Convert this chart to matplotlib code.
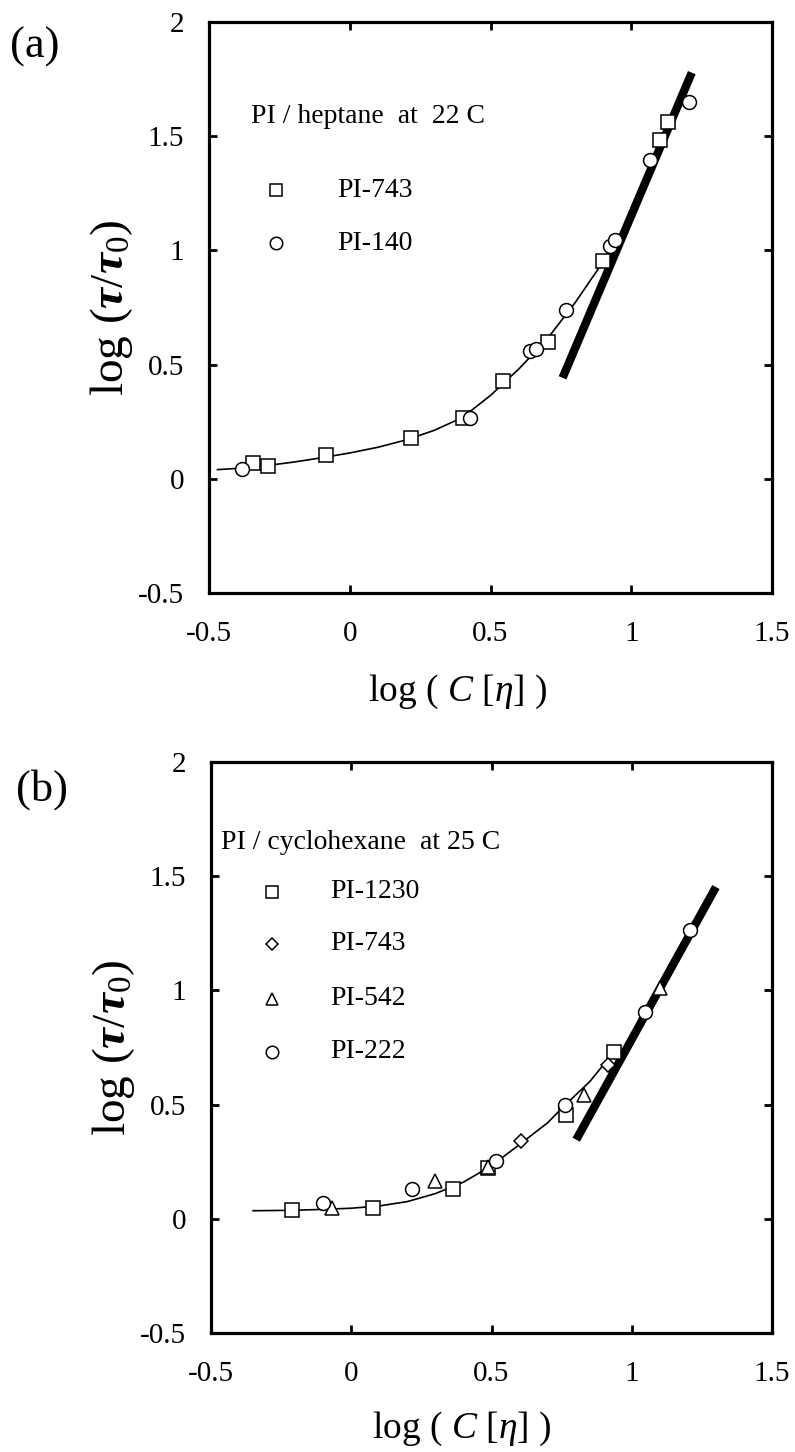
import matplotlib
matplotlib.use("Agg")
import matplotlib.pyplot as plt

plt.rcParams['font.family'] = ['Liberation Serif', 'DejaVu Serif']
plt.rcParams['mathtext.fontset'] = 'custom'
plt.rcParams['mathtext.rm'] = 'Liberation Serif'
plt.rcParams['mathtext.it'] = 'Liberation Serif:italic'
plt.rcParams['mathtext.bf'] = 'Liberation Serif:bold:italic'

# (a) PI / heptane at 22 C
a_sq_x = [-0.343, -0.292, -0.086, 0.218, 0.402, 0.544, 0.703, 0.901, 1.103, 1.132]
a_sq_y = [0.067, 0.058, 0.103, 0.178, 0.267, 0.428, 0.600, 0.953, 1.483, 1.562]
a_ci_x = [-0.383, 0.428, 0.639, 0.663, 0.769, 0.923, 0.941, 1.066, 1.205]
a_ci_y = [0.042, 0.267, 0.558, 0.567, 0.737, 1.017, 1.047, 1.395, 1.650]
a_curve_x = [-0.47, -0.38, -0.3, -0.2, -0.1, 0.0, 0.1, 0.2, 0.3, 0.4, 0.5, 0.6, 0.7, 0.8, 0.9, 0.94]
a_curve_y = [0.040, 0.047, 0.057, 0.073, 0.092, 0.113, 0.138, 0.170, 0.212, 0.268, 0.365, 0.480, 0.610, 0.770, 0.950, 1.040]
a_fit_x = [0.756, 1.215]
a_fit_y = [0.442, 1.778]

# (b) PI / cyclohexane at 25 C
b_sq_x = [-0.213, 0.077, 0.362, 0.489, 0.767, 0.935]
b_sq_y = [0.037, 0.049, 0.130, 0.224, 0.455, 0.728]
b_di_x = [0.605, 0.915]
b_di_y = [0.341, 0.675]
b_tr_x = [-0.069, 0.297, 0.489, 0.831, 1.100]
b_tr_y = [0.046, 0.163, 0.228, 0.541, 1.008]
b_ci_x = [-0.100, 0.217, 0.515, 0.761, 1.048, 1.207]
b_ci_y = [0.070, 0.130, 0.254, 0.498, 0.907, 1.262]
b_curve_x = [-0.35, -0.2, -0.1, 0.0, 0.1, 0.2, 0.3, 0.4, 0.5, 0.6, 0.7, 0.76, 0.85, 0.93]
b_curve_y = [0.035, 0.037, 0.041, 0.046, 0.056, 0.075, 0.110, 0.160, 0.232, 0.325, 0.420, 0.495, 0.600, 0.720]
b_fit_x = [0.802, 1.300]
b_fit_y = [0.346, 1.452]

ticks_x = [-0.5, 0, 0.5, 1, 1.5]
ticks_y = [-0.5, 0, 0.5, 1, 1.5, 2]
tick_lbl_x = ['-0.5', '0', '0.5', '1', '1.5']
tick_lbl_y = ['-0.5', '0', '0.5', '1', '1.5', '2']

fig = plt.figure(figsize=(7.95, 14.52), dpi=100)
ax1 = fig.add_axes([0.2629, 0.5916, 0.7082, 0.3933])
ax2 = fig.add_axes([0.2654, 0.0820, 0.7057, 0.3933])

mk = dict(linestyle='none', mfc='white', mec='black', mew=1.1, zorder=4)


def style(ax, xl_x, xl_y):
    ax.set_xlim(-0.5, 1.5)
    ax.set_ylim(-0.5, 2)
    ax.set_xticks(ticks_x)
    ax.set_xticklabels(tick_lbl_x)
    ax.set_yticks(ticks_y)
    ax.set_yticklabels(tick_lbl_y)
    ax.tick_params(direction='in', length=6, width=2, labelsize=21,
                   top=True, right=True)
    ax.tick_params(axis='x', pad=20)
    ax.tick_params(axis='y', pad=18)
    for s in ax.spines.values():
        s.set_linewidth(2.3)
    ax.set_xlabel(r'log ( $C$ [$\eta$] )', fontsize=27)
    ax.xaxis.set_label_coords(xl_x, xl_y)
    ax.set_ylabel(r'log ($\mathbf{\tau}/\mathbf{\tau}_{\mathrm{0}}$)', fontsize=34)
    ax.yaxis.set_label_coords(-0.131, 0.5)


# panel a
ax1.plot(a_curve_x, a_curve_y, color='black', lw=1.2, zorder=2)
ax1.plot(a_fit_x, a_fit_y, color='black', lw=6, solid_capstyle='butt', zorder=3)
ax1.plot(a_sq_x, a_sq_y, marker='s', ms=10, **mk)
ax1.plot(a_ci_x, a_ci_y, marker='o', ms=10, **mk)
ax1.text(-0.351, 1.584, 'PI / heptane  at  22 C', fontsize=20, va='center')
ax1.plot([-0.262], [1.264], marker='s', ms=9, **mk)
ax1.text(-0.045, 1.264, 'PI-743', fontsize=20, va='center')
ax1.plot([-0.262], [1.032], marker='o', ms=9, **mk)
ax1.text(-0.045, 1.032, 'PI-140', fontsize=20, va='center')
style(ax1, 0.442, -0.14)

# panel b
ax2.plot(b_curve_x, b_curve_y, color='black', lw=1.2, zorder=2)
ax2.plot(b_fit_x, b_fit_y, color='black', lw=6, solid_capstyle='butt', zorder=3)
ax2.plot(b_sq_x, b_sq_y, marker='s', ms=10, **mk)
ax2.plot(b_di_x, b_di_y, marker='D', ms=7, **mk)
ax2.plot(b_tr_x, b_tr_y, marker='^', ms=10, **mk)
ax2.plot(b_ci_x, b_ci_y, marker='o', ms=10, **mk)
ax2.text(-0.464, 1.645, 'PI / cyclohexane  at 25 C', fontsize=20, va='center')
leg_b = [('s', 9, 'PI-1230', 1.432), ('D', 6.5, 'PI-743', 1.203),
         ('^', 9, 'PI-542', 0.964), ('o', 9, 'PI-222', 0.732)]
for m, s, lbl, yy in leg_b:
    ax2.plot([-0.283], [yy], marker=m, ms=s, **mk)
    ax2.text(-0.075, yy, lbl, fontsize=20, va='center')
style(ax2, 0.446, -0.135)

fig.text(35 / 795, 1 - 47 / 1452, '(a)', fontsize=32, ha='center', va='center')
fig.text(42 / 795, 1 - 790 / 1452, '(b)', fontsize=32, ha='center', va='center')

fig.savefig('out.png', dpi=100)
